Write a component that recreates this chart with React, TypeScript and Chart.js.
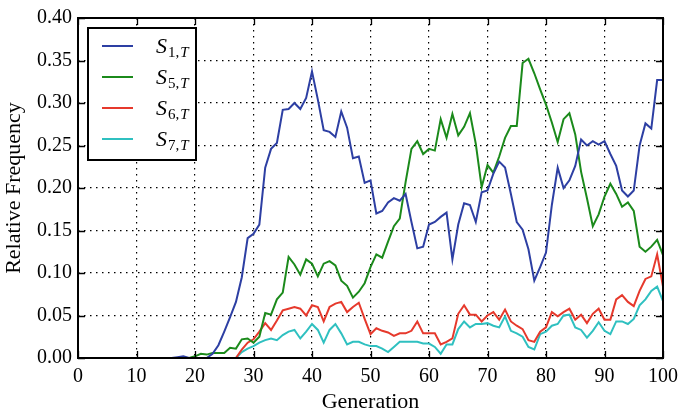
import React, { useEffect, useRef } from "react";
import { Chart, registerables } from "chart.js";

Chart.register(...registerables);

const generations = [
  0, 1, 2, 3, 4, 5, 6, 7, 8, 9, 10, 11, 12, 13, 14, 15, 16, 17, 18, 19, 20,
  21, 22, 23, 24, 25, 26, 27, 28, 29, 30, 31, 32, 33, 34, 35, 36, 37, 38, 39, 40,
  41, 42, 43, 44, 45, 46, 47, 48, 49, 50, 51, 52, 53, 54, 55, 56, 57, 58, 59, 60,
  61, 62, 63, 64, 65, 66, 67, 68, 69, 70, 71, 72, 73, 74, 75, 76, 77, 78, 79, 80,
  81, 82, 83, 84, 85, 86, 87, 88, 89, 90, 91, 92, 93, 94, 95, 96, 97, 98, 99, 100,
];

const s1 = [
  0, 0, 0, 0, 0, 0, 0, 0, 0, 0, 0, 0, 0, 0, 0, 0, 0, 0.001, 0.002, 0, 0,
  0, 0, 0.005, 0.015, 0.031, 0.048, 0.066, 0.095, 0.141, 0.146,
  0.157, 0.224, 0.246, 0.253, 0.292, 0.293, 0.3, 0.293, 0.306, 0.337,
  0.304, 0.268, 0.266, 0.26, 0.29, 0.271, 0.235, 0.237, 0.206, 0.209,
  0.17, 0.173, 0.183, 0.188, 0.185, 0.193, 0.16, 0.129, 0.131, 0.157,
  0.16, 0.166, 0.171, 0.116, 0.157, 0.182, 0.18, 0.16, 0.195, 0.197,
  0.217, 0.231, 0.224, 0.193, 0.16, 0.151, 0.128, 0.091, 0.107, 0.124,
  0.18, 0.224, 0.2, 0.209, 0.226, 0.257, 0.25, 0.255, 0.251, 0.255,
  0.24, 0.226, 0.197, 0.19, 0.197, 0.25, 0.276, 0.27, 0.327, 0.327,
];

const s5 = [
  0, 0, 0, 0, 0, 0, 0, 0, 0, 0, 0, 0, 0, 0, 0, 0, 0, 0, 0, 0, 0.002,
  0.005, 0.004, 0.006, 0.006, 0.006, 0.012, 0.011, 0.022, 0.023, 0.018,
  0.025, 0.053, 0.051, 0.069, 0.077, 0.119, 0.11, 0.098, 0.116, 0.111,
  0.096, 0.111, 0.114, 0.109, 0.091, 0.085, 0.071, 0.078, 0.088, 0.107,
  0.122, 0.118, 0.137, 0.155, 0.164, 0.207, 0.246, 0.255, 0.24, 0.246,
  0.244, 0.281, 0.259, 0.287, 0.262, 0.272, 0.288, 0.252, 0.201, 0.227,
  0.218, 0.237, 0.259, 0.273, 0.273, 0.347, 0.352, 0.335, 0.316, 0.298,
  0.277, 0.254, 0.281, 0.288, 0.263, 0.219, 0.188, 0.155, 0.169, 0.19,
  0.205, 0.193, 0.178, 0.183, 0.173, 0.131, 0.125, 0.131, 0.139, 0.121,
];

const s6 = [
  0, 0, 0, 0, 0, 0, 0, 0, 0, 0, 0, 0, 0, 0, 0, 0, 0, 0, 0, 0, 0,
  0, 0, 0, 0, 0, 0, 0, 0.01, 0.018, 0.022,
  0.031, 0.041, 0.033, 0.044, 0.056, 0.058, 0.06, 0.058, 0.05, 0.062,
  0.06, 0.043, 0.06, 0.064, 0.066, 0.054, 0.06, 0.065, 0.046, 0.028,
  0.035, 0.032, 0.03, 0.026, 0.029, 0.029, 0.032, 0.043, 0.029, 0.029,
  0.029, 0.016, 0.019, 0.023, 0.052, 0.062, 0.051, 0.051, 0.043, 0.05,
  0.054, 0.045, 0.057, 0.043, 0.038, 0.034, 0.021, 0.019, 0.031, 0.036,
  0.054, 0.049, 0.054, 0.058, 0.045, 0.051, 0.041, 0.052, 0.058, 0.045,
  0.045, 0.069, 0.074, 0.066, 0.061, 0.079, 0.093, 0.096, 0.122, 0.084,
];

const s7 = [
  0, 0, 0, 0, 0, 0, 0, 0, 0, 0, 0, 0, 0, 0, 0, 0, 0, 0, 0, 0, 0,
  0, 0, 0, 0, 0, 0, 0, 0.007, 0.011, 0.014,
  0.018, 0.021, 0.023, 0.021, 0.027, 0.031, 0.033, 0.023, 0.031, 0.04,
  0.033, 0.018, 0.033, 0.04, 0.029, 0.016, 0.019, 0.019, 0.016, 0.014,
  0.014, 0.011, 0.007, 0.013, 0.019, 0.019, 0.019, 0.019, 0.017, 0.017,
  0.013, 0.005, 0.016, 0.016, 0.034, 0.043, 0.036, 0.04, 0.04, 0.041,
  0.038, 0.036, 0.049, 0.032, 0.029, 0.025, 0.013, 0.01, 0.028, 0.031,
  0.038, 0.04, 0.05, 0.051, 0.036, 0.033, 0.024, 0.032, 0.042, 0.032,
  0.028, 0.043, 0.043, 0.04, 0.046, 0.062, 0.069, 0.079, 0.084, 0.067,
];

const xTicks = [0, 10, 20, 30, 40, 50, 60, 70, 80, 90, 100];
const yTicks = [0, 0.05, 0.1, 0.15, 0.2, 0.25, 0.3, 0.35, 0.4];

const seriesSubscripts = ["1,", "5,", "6,", "7,"];
const seriesValues = [s1, s5, s6, s7];
const seriesColors = ["#2d3fa3", "#1b8a1b", "#e6392c", "#2fc0c0"];

const xTitle = "Generation";
const yTitle = "Relative Frequency";

const FONT = '"Liberation Serif", "Times New Roman", serif';

const decorPlugin = {
  id: "decor",
  afterDatasetsDraw(chart: any) {
    const { ctx, chartArea: a, scales } = chart;
    ctx.save();
    ctx.strokeStyle = "#000";
    ctx.lineWidth = 1.3;
    const tl = 7;
    ctx.beginPath();
    for (const v of xTicks) {
      const px = Math.round(scales.x.getPixelForValue(v)) + 0.5;
      ctx.moveTo(px, a.bottom);
      ctx.lineTo(px, a.bottom - tl);
      ctx.moveTo(px, a.top);
      ctx.lineTo(px, a.top + tl);
    }
    for (const v of yTicks) {
      const py = Math.round(scales.y.getPixelForValue(v)) + 0.5;
      ctx.moveTo(a.left, py);
      ctx.lineTo(a.left + tl, py);
      ctx.moveTo(a.right, py);
      ctx.lineTo(a.right - tl, py);
    }
    ctx.stroke();

    // frame
    ctx.lineWidth = 2;
    ctx.strokeRect(a.left, a.top, a.right - a.left, a.bottom - a.top);

    // legend
    const lx = a.left + 10;
    const ly = a.top + 10;
    const lw = 108;
    const lh = 132;
    ctx.fillStyle = "#fff";
    ctx.fillRect(lx, ly, lw, lh);
    ctx.lineWidth = 2;
    ctx.strokeStyle = "#000";
    ctx.strokeRect(lx, ly, lw, lh);
    for (let i = 0; i < seriesSubscripts.length; i++) {
      const yy = ly + 18 + i * 31;
      ctx.strokeStyle = seriesColors[i];
      ctx.lineWidth = 2;
      ctx.beginPath();
      ctx.moveTo(lx + 14, yy);
      ctx.lineTo(lx + 45, yy);
      ctx.stroke();
      ctx.fillStyle = "#000";
      ctx.textAlign = "left";
      ctx.textBaseline = "alphabetic";
      ctx.font = `italic 22px ${FONT}`;
      const sx = lx + 68;
      ctx.fillText("S", sx, yy + 7);
      const sw = ctx.measureText("S").width;
      ctx.font = `15px ${FONT}`;
      const sub = seriesSubscripts[i];
      ctx.fillText(sub, sx + sw + 1, yy + 11);
      const subw = ctx.measureText(sub).width;
      ctx.font = `italic 15px ${FONT}`;
      ctx.fillText("T", sx + sw + 1 + subw + 1, yy + 11);
    }

    // axis titles
    ctx.fillStyle = "#000";
    ctx.font = `22px ${FONT}`;
    ctx.textAlign = "center";
    ctx.textBaseline = "alphabetic";
    ctx.fillText(xTitle, (a.left + a.right) / 2, 408);
    ctx.save();
    ctx.translate(20, (a.top + a.bottom) / 2);
    ctx.rotate(-Math.PI / 2);
    ctx.fillText(yTitle, 0, 0);
    ctx.restore();

    ctx.restore();
  },
};

export default function App() {
  const ref = useRef<HTMLCanvasElement | null>(null);

  useEffect(() => {
    document.body.style.margin = "0";
    const canvas = ref.current;
    if (!canvas) return;
    const chart = new Chart(canvas, {
      type: "line",
      data: {
        datasets: seriesValues.map((vals, i) => ({
          label: "S" + seriesSubscripts[i] + "T",
          data: generations.map((g, j) => ({ x: g, y: vals[j] })),
          borderColor: seriesColors[i],
          backgroundColor: seriesColors[i],
          borderWidth: 2,
          pointRadius: 0,
          tension: 0,
          fill: false,
        })),
      },
      options: {
        animation: false,
        responsive: false,
        devicePixelRatio: 1,
        layout: { padding: { top: 14, right: 17, bottom: 0, left: 0 } },
        plugins: {
          legend: { display: false },
          tooltip: { enabled: false },
        },
        scales: {
          x: {
            type: "linear",
            min: 0,
            max: 100,
            afterFit: (s: any) => {
              s.height = 56;
            },
            afterBuildTicks: (s: any) => {
              s.ticks = xTicks.map((v) => ({ value: v }));
            },
            ticks: {
              color: "#000",
              font: { family: FONT, size: 20 },
              padding: 7,
              maxRotation: 0,
              autoSkip: false,
              callback: (v: any) => String(v),
            },
            grid: {
              color: "#000",
              lineWidth: 1.2,
              drawTicks: false,
            },
            border: { display: false, dash: [1.5, 4.5] },
          },
          y: {
            type: "linear",
            min: 0,
            max: 0.4,
            afterFit: (s: any) => {
              s.width = 78;
            },
            afterBuildTicks: (s: any) => {
              s.ticks = yTicks.map((v) => ({ value: v }));
            },
            ticks: {
              color: "#000",
              font: { family: FONT, size: 20 },
              padding: 6,
              autoSkip: false,
              callback: (v: any) => Number(v).toFixed(2),
            },
            grid: {
              color: "#000",
              lineWidth: 1.2,
              drawTicks: false,
            },
            border: { display: false, dash: [1.5, 4.5] },
          },
        },
      },
      plugins: [decorPlugin],
    });
    return () => chart.destroy();
  }, []);

  return <canvas ref={ref} width={685} height={414} style={{ display: "block" }} />;
}
